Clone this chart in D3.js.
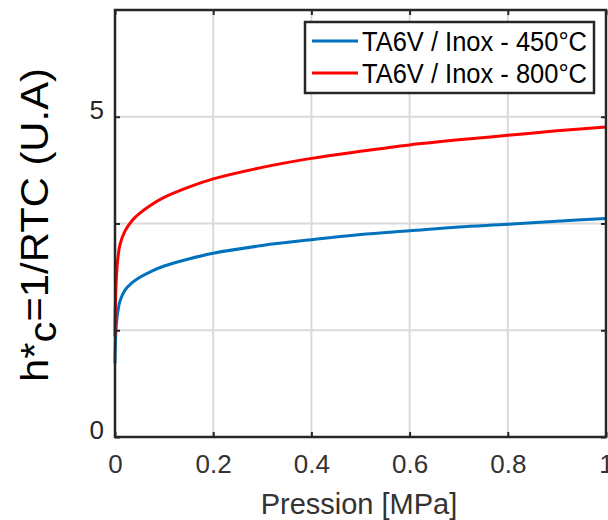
<!DOCTYPE html>
<html><head><meta charset="utf-8">
<script src="https://cdn.jsdelivr.net/npm/d3@7"></script>
<style>body{margin:0;background:#fff}svg{display:block}text{font-family:"Liberation Sans",Arial,sans-serif}</style>
</head><body><svg id="c" width="608" height="520"></svg>
<script>
const seriesNames = ["TA6V / Inox - 450°C", "TA6V / Inox - 800°C"];
const seriesColors = ["#0072BD", "#FF0000"];
const pressure = [0, 0.001, 0.003, 0.006, 0.01, 0.02, 0.035, 0.05, 0.075, 0.1, 0.15, 0.2, 0.3, 0.4, 0.5, 0.6, 0.7, 0.8, 0.9, 1.0];
const values450 = [1.15, 1.50, 1.78, 1.97, 2.12, 2.29, 2.41, 2.49, 2.59, 2.67, 2.78, 2.87, 2.99, 3.08, 3.16, 3.22, 3.28, 3.32, 3.37, 3.41];
const values800 = [1.57, 2.10, 2.52, 2.80, 3.00, 3.21, 3.38, 3.49, 3.63, 3.74, 3.90, 4.03, 4.21, 4.35, 4.46, 4.56, 4.64, 4.71, 4.78, 4.84];
const xTickValues = [0, 0.2, 0.4, 0.6, 0.8, 1];
const xTickLabels = ["0", "0.2", "0.4", "0.6", "0.8", "1"];
const yTickValues = [0, 5/3, 10/3, 5];
const yTickLabels = ["0", "", "", "5"];
const xDomain = [0, 1];
const yDomain = [0, 20/3];

const svg = d3.select("#c");
const L = 115, R = 606, T = 10, B = 437;
const x = d3.scaleLinear().domain(xDomain).range([L, R]);
const y = d3.scaleLinear().domain(yDomain).range([B, T]);
const axisCol = "#262626";

// grid
const g = svg.append("g");
g.selectAll(".gx").data(xTickValues.slice(1, -1)).join("line")
  .attr("x1", d => x(d)).attr("x2", d => x(d)).attr("y1", T).attr("y2", B)
  .attr("stroke", "#dadada").attr("stroke-width", 2);
g.selectAll(".gy").data(yTickValues.slice(1)).join("line")
  .attr("x1", L).attr("x2", R).attr("y1", d => y(d)).attr("y2", d => y(d))
  .attr("stroke", "#dadada").attr("stroke-width", 2);

// lines
const line = d3.line().x(d => x(d[0])).y(d => y(d[1])).curve(d3.curveCatmullRom.alpha(0.5));
const data = [d3.zip(pressure, values450), d3.zip(pressure, values800)];
svg.selectAll(".ln").data(data).join("path")
  .attr("d", line).attr("fill", "none")
  .attr("stroke", (d, i) => seriesColors[i]).attr("stroke-width", 3)
  .attr("stroke-linejoin", "round");

// axes (ticks inward)
const fmtX = (d, i) => xTickLabels[i];
const fmtY = (d, i) => yTickLabels[i];
function styleAxis(sel) {
  sel.select(".domain").remove();
  sel.selectAll(".tick line").attr("stroke", axisCol).attr("stroke-width", 2);
}
svg.append("g").attr("transform", `translate(0,${B})`)
  .call(d3.axisBottom(x).tickValues(xTickValues).tickFormat(fmtX).tickSizeInner(-5).tickPadding(18))
  .call(styleAxis)
  .call(s => s.selectAll("text").attr("font-size", 26).attr("fill", "#333").attr("font-family", "Liberation Sans, Arial, sans-serif"));
svg.append("g").attr("transform", `translate(0,${T})`)
  .call(d3.axisTop(x).tickValues(xTickValues).tickFormat("").tickSizeInner(-5))
  .call(styleAxis);
svg.append("g").attr("transform", `translate(${L},0)`)
  .call(d3.axisLeft(y).tickValues(yTickValues).tickFormat(fmtY).tickSizeInner(-5).tickPadding(11))
  .call(styleAxis)
  .call(s => s.selectAll("text").attr("font-size", 26).attr("fill", "#262626").attr("dy", "0.05em").attr("font-family", "Liberation Sans, Arial, sans-serif"));
svg.append("g").attr("transform", `translate(${R},0)`)
  .call(d3.axisRight(y).tickValues(yTickValues).tickFormat("").tickSizeInner(-5))
  .call(styleAxis);

// frame
svg.append("rect").attr("x", L).attr("y", T).attr("width", R - L).attr("height", B - T)
  .attr("fill", "none").attr("stroke", axisCol).attr("stroke-width", 2.5);

// axis labels
svg.append("text").attr("x", 359).attr("y", 514).attr("text-anchor", "middle")
  .attr("font-size", 29).attr("fill", "#333").text("Pression [MPa]");
const yl = svg.append("text").attr("transform", "translate(48,225) rotate(-90) scale(1.1,1)")
  .attr("text-anchor", "middle").attr("font-size", 38).attr("fill", "#000");
yl.append("tspan").text("h*");
yl.append("tspan").attr("dy", 8).text("c");
yl.append("tspan").attr("dy", -8).text("=1/RTC (U.A)");

// legend
const lg = svg.append("g");
lg.append("rect").attr("x", 305).attr("y", 22).attr("width", 289).attr("height", 71)
  .attr("fill", "#fff").attr("stroke", axisCol).attr("stroke-width", 2.5);
seriesNames.forEach((n, i) => {
  const yy = 41 + i * 32;
  lg.append("line").attr("x1", 312).attr("x2", 358).attr("y1", yy).attr("y2", yy)
    .attr("stroke", seriesColors[i]).attr("stroke-width", 3);
  lg.append("text").attr("x", 362).attr("y", yy + 10).attr("font-size", 27)
    .attr("textLength", 225).attr("lengthAdjust", "spacingAndGlyphs").attr("fill", "#000").text(n);
});
</script></body></html>
